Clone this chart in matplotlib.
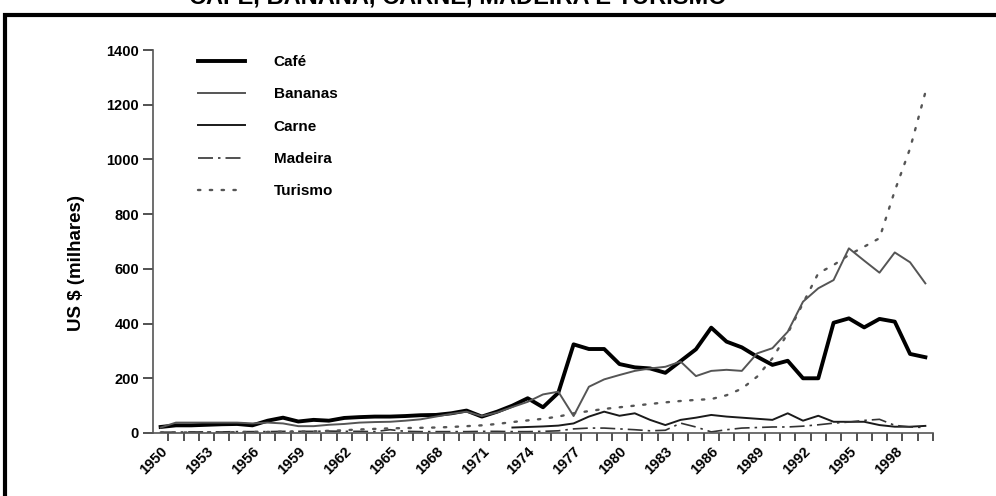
import numpy as np
import matplotlib.pyplot as plt
from matplotlib.patches import Rectangle
from matplotlib.ticker import FixedLocator

plt.rcParams['font.family'] = ['Liberation Sans', 'DejaVu Sans']
plt.rcParams['font.weight'] = 'bold'

years = np.arange(1950, 2001)
tick_years = np.arange(1950, 2000, 3)

cafe = [22, 28, 28, 30, 32, 33, 28, 45, 56, 42,
        48, 45, 55, 58, 60, 60, 62, 65, 66, 72,
        82, 60, 78, 100, 127, 94, 147, 324, 307, 307,
        252, 240, 236, 220, 263, 306, 385, 334, 313, 279,
        249, 264, 200, 200, 403, 419, 386, 417, 407, 289,
        277]
bananas = [20, 38, 38, 38, 38, 38, 35, 38, 35, 25,
           25, 30, 33, 38, 40, 41, 45, 50, 60, 70,
           78, 62, 75, 95, 114, 141, 151, 62, 169, 196,
           212, 227, 236, 242, 261, 208, 227, 231, 227, 291,
           310, 370, 480, 529, 559, 675, 630, 586, 660, 624,
           547]
carne = [np.nan] * 23 + [20, 22, 24, 27, 35, 60, 78,
                         63, 72, 48, 29, 48, 56, 66, 60, 56, 52,
                         48, 72, 45, 63, 41, 41, 41, 29, 23, 23,
                         26]
madeira = [3, 3, 4, 4, 4, 5, 5, 5, 6, 6,
           6, 7, 6, 6, 5, 12, 6, 5, 5, 5,
           5, 6, 6, 5, 5, 6, 8, 15, 18, 18,
           15, 12, 8, 10, 36, 22, 4, 12, 18, 20,
           22, 22, 25, 30, 36, 40, 46, 50, 28, 22,
           20]
turismo = [2, 2, 2, 3, 3, 3, 4, 4, 5, 5,
           6, 8, 10, 13, 15, 17, 18, 19, 20, 22,
           25, 28, 33, 40, 46, 52, 60, 72, 80, 88,
           94, 100, 106, 112, 117, 121, 124, 138, 162, 206,
           273, 364, 474, 584, 614, 651, 681, 712, 885, 1040,
           1245]

fig = plt.figure(figsize=(9.96, 4.96), dpi=100)
ax = fig.add_axes([153/996, 63/496, 780/996, 383/496])

ax.plot(years, cafe, color='black', lw=2.8, label='Café')
ax.plot(years, bananas, color='#555555', lw=1.4, label='Bananas')
ax.plot(years, carne, color='#1a1a1a', lw=1.4, label='Carne')
ax.plot(years, madeira, color='#333333', lw=1.2, ls=(0, (9, 3, 1.5, 3)), label='Madeira')
ax.plot(years, turismo, color='#555555', lw=1.7, ls=(0, (1, 4)),
        dash_capstyle='round', label='Turismo')

ax.set_xlim(1949.5, 2000.5)
ax.set_ylim(0, 1400)
ax.set_yticks(np.arange(0, 1401, 200))
ax.set_xticks(tick_years)
ax.set_xticklabels([str(y) for y in tick_years], rotation=45, ha='right',
                   va='top', rotation_mode='anchor', fontsize=10.5, fontweight='bold')
ax.xaxis.set_minor_locator(FixedLocator(np.arange(1950.5, 2001, 1)))
ax.tick_params(axis='x', which='major', length=0, pad=8)
ax.tick_params(axis='x', which='minor', length=6, width=1.2, color='#333333')
ax.tick_params(axis='y', length=7, width=1.2, color='#333333', labelsize=10.5, pad=3)

for s in ['top', 'right']:
    ax.spines[s].set_visible(False)
for s in ['left', 'bottom']:
    ax.spines[s].set_color('#555555')
    ax.spines[s].set_linewidth(1.2)

fig.text(76/996, 1 - 263/496, 'US $ (milhares)', rotation=90, ha='center',
         va='center', fontsize=13.5, fontweight='bold')

fig.text(458/996, 1 - 5/496, 'CAFÉ, BANANA, CARNE, MADEIRA E TURISMO',
         ha='center', va='baseline', fontsize=17, fontweight='bold')

ax.legend(loc='upper left', bbox_to_anchor=(198/996, 1 - 55/496),
          bbox_transform=fig.transFigure, frameon=False, fontsize=11,
          handlelength=3.1, handletextpad=1.85, labelspacing=1.2,
          borderpad=0, borderaxespad=0)

# outer frame: top and left edges visible, the rest runs off the picture
fig.patches.append(Rectangle((5/996, -0.2), 1.2, 0.2 + (1 - 15/496),
                             transform=fig.transFigure, fill=False,
                             edgecolor='black', lw=3))

fig.savefig('out.png', dpi=100)
